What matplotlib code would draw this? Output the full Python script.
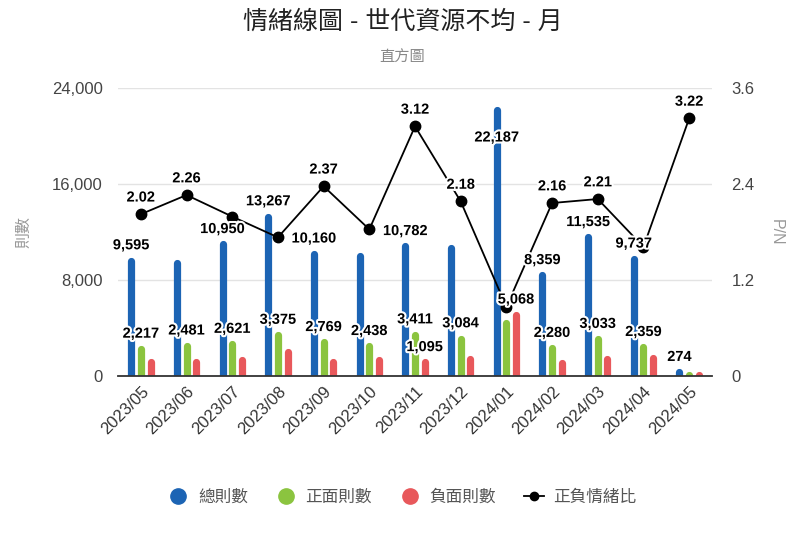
import numpy as np
import matplotlib
matplotlib.use("Agg")
import matplotlib.pyplot as plt
import matplotlib.patheffects as pe
from matplotlib.lines import Line2D
from matplotlib.ticker import FuncFormatter

plt.rcParams['font.family'] = ['Liberation Sans', 'Noto Sans CJK TC']

# data
months = ['2023/05', '2023/06', '2023/07', '2023/08', '2023/09', '2023/10', '2023/11',
          '2023/12', '2024/01', '2024/02', '2024/03', '2024/04', '2024/05']
total = [9595, 9420, 10950, 13267, 10160, 9980, 10782, 10650, 22187, 8359, 11535, 9737, 274]
positive = [2217, 2481, 2621, 3375, 2769, 2438, 3411, 3084, 4358, 2280, 3033, 2359, 29]
negative = [1098, 1098, 1317, 1951, 1168, 1332, 1095, 1415, 5068, 1056, 1372, 1465, 9]
ratio = [2.02, 2.26, 1.99, 1.73, 2.37, 1.83, 3.12, 2.18, 0.86, 2.16, 2.21, 1.61, 3.22]

# which value labels are visible in the original (others were hidden by overlap)
total_shown = [0, 2, 3, 4, 6, 8, 9, 10, 11, 12]
positive_shown = [0, 1, 2, 3, 4, 5, 6, 7, 9, 10, 11]
negative_shown = [6, 8]
ratio_shown = [0, 1, 4, 6, 7, 9, 10, 12]

c_total = '#1c64b4'
c_pos = '#8bc43f'
c_neg = '#e8585b'

fig = plt.figure(figsize=(8.05, 5.37), dpi=100)
ax = fig.add_axes([0.1466, 0.3007, 0.7379, 0.5354])
ax2 = ax.twinx()

x = np.arange(len(months))
off = 0.212
bar_lw = 5.2

ax.vlines(x - off, 0, total, color=c_total, lw=bar_lw, zorder=3)
ax.vlines(x, 0, positive, color=c_pos, lw=bar_lw, zorder=3)
ax.vlines(x + off, 0, negative, color=c_neg, lw=bar_lw, zorder=3)
for coll in ax.collections:
    coll.set_capstyle('round')

ax.set_xlim(-0.5, len(months) - 0.5)
ax.set_ylim(0, 24000)
ax.set_yticks([0, 8000, 16000, 24000])
ax.yaxis.set_major_formatter(FuncFormatter(lambda v, p: f'{int(v):,}'))
ax.grid(axis='y', color='#e3e3e3', lw=1)
ax.set_axisbelow(True)
for s in ['top', 'left', 'right']:
    ax.spines[s].set_visible(False)
ax.spines['bottom'].set_color('#333333')
ax.spines['bottom'].set_linewidth(1.3)
ax.spines['bottom'].set_zorder(5)
ax.tick_params(axis='y', length=0, pad=11, labelsize=12, labelcolor='#444444')
ax.tick_params(axis='x', length=0, pad=6, labelsize=12, labelcolor='#333333')
ax.set_xticks(x)
ax.set_xticklabels(months, rotation=45, ha='right', rotation_mode='anchor')
ax.set_ylabel('則數', color='#999999', fontsize=11.5)
ax.yaxis.set_label_coords(-0.145, 0.5)

ax2.plot(x, ratio, color='black', lw=1.3, marker='o', ms=7.5, zorder=4)
ax2.set_ylim(0, 3.6)
ax2.set_yticks([0, 1.2, 2.4, 3.6])
ax2.set_yticklabels(['0', '1.2', '2.4', '3.6'])
for s in ['top', 'left', 'right', 'bottom']:
    ax2.spines[s].set_visible(False)
ax2.tick_params(axis='y', length=0, pad=14, labelsize=12, labelcolor='#444444')
ax2.set_ylabel('P/N', color='#999999', fontsize=11.5, rotation=270, va='center')
ax2.yaxis.set_label_coords(1.108, 0.5)

halo = [pe.withStroke(linewidth=3, foreground='white')]
lab_kw = dict(textcoords='offset points', ha='center', va='center', fontsize=10.5,
              fontweight='bold', color='black', path_effects=halo, zorder=10,
              annotation_clip=False)

for i in total_shown:
    dy = -20 if total[i] > 20000 else 11   # the tallest bar gets its label inside
    ax2.annotate(f'{total[i]:,}', (x[i] - off, total[i]), xycoords=ax.transData,
                 xytext=(0, dy), **lab_kw)
for i in positive_shown:
    ax2.annotate(f'{positive[i]:,}', (x[i], positive[i]), xycoords=ax.transData,
                 xytext=(0, 11), **lab_kw)
for i in negative_shown:
    ax2.annotate(f'{negative[i]:,}', (x[i] + off, negative[i]), xycoords=ax.transData,
                 xytext=(0, 11), **lab_kw)
for i in ratio_shown:
    ax2.annotate(f'{ratio[i]:.2f}', (x[i], ratio[i]), xytext=(0, 12), **lab_kw)

fig.text(0.5, 1 - 22 / 537, '情緒線圖 - 世代資源不均 - 月', ha='center', va='center',
         fontsize=18, color='#222222', fontweight='medium')
fig.text(0.5, 1 - 58 / 537, '直方圖', ha='center', va='center', fontsize=11, color='#888888')

handles = [
    Line2D([], [], ls='none', marker='o', ms=11, color=c_total),
    Line2D([], [], ls='none', marker='o', ms=11, color=c_pos),
    Line2D([], [], ls='none', marker='o', ms=11, color=c_neg),
    Line2D([], [], color='black', lw=1.3, marker='o', ms=6),
]
fig.legend(handles, ['總則數', '正面則數', '負面則數', '正負情緒比'], loc='center',
           bbox_to_anchor=(0.5, 1 - 497 / 537), ncol=4, frameon=False, fontsize=12,
           labelcolor='#555555', handlelength=1.2, handletextpad=0.6, columnspacing=1.65)

fig.savefig('out.png', dpi=100)
